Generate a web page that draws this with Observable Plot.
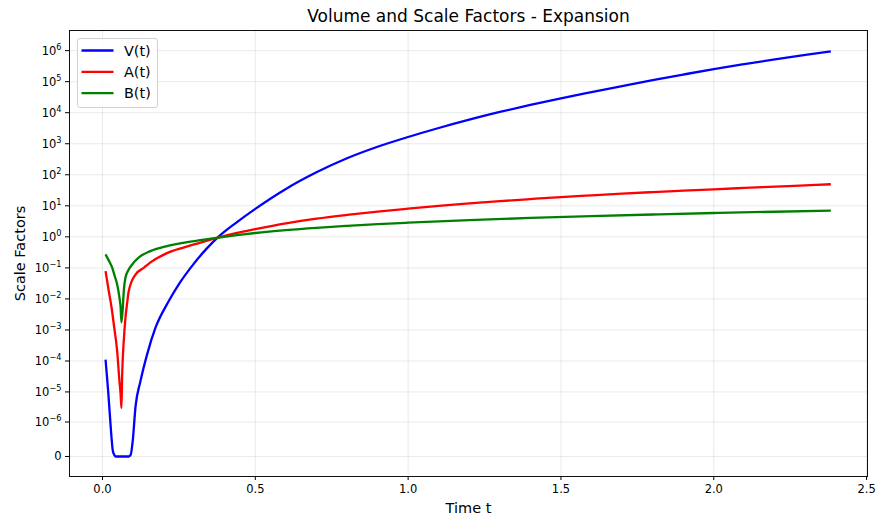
<!DOCTYPE html>
<html>
<head>
<meta charset="utf-8">
<script src="https://cdn.jsdelivr.net/npm/d3@7"></script>
<script src="https://cdn.jsdelivr.net/npm/@observablehq/plot@0.6"></script>
<style>
  html, body { margin: 0; padding: 0; background: #fff; }
  #wrap { position: relative; width: 876px; height: 518px; font-family: "DejaVu Sans", sans-serif; }
  #legend { position: absolute; left: 77px; top: 38px; width: 79px; height: 68px;
            border: 1px solid #d2d2d2; border-radius: 3px; background: rgba(255,255,255,0.85); }
</style>
</head>
<body>
<div id="wrap"></div>
<script>
// ---------- data ----------
const title = "Volume and Scale Factors - Expansion";
const xLabel = "Time t";
const yLabel = "Scale Factors";

const seriesNames  = ["V(t)", "A(t)", "B(t)"];
const seriesColors = ["#0000ff", "#ff0000", "#008000"];

const xTicks = [0, 0.5, 1, 1.5, 2, 2.5];
const xTickLabels = ["0.0", "0.5", "1.0", "1.5", "2.0", "2.5"];
const yTicks = [0, 1e-6, 1e-5, 1e-4, 1e-3, 1e-2, 1e-1, 1, 1e1, 1e2, 1e3, 1e4, 1e5, 1e6];
const yTickLabels = ["0", "10⁻⁶", "10⁻⁵", "10⁻⁴", "10⁻³", "10⁻²", "10⁻¹", "10⁰", "10¹", "10²", "10³", "10⁴", "10⁵", "10⁶"];

// V(t)
const tV = [0.010, 0.0186, 0.026, 0.0336, 0.038, 0.042, 0.086, 0.092, 0.099, 0.108, 0.124, 0.146, 0.173, 0.2164, 0.25, 0.297,
            0.34, 0.379, 0.44, 0.5, 0.6, 0.7, 0.8, 0.9, 1.0, 1.1, 1.2, 1.3, 1.4, 1.5, 1.6, 1.7, 1.8, 1.9, 2.0,
            2.1, 2.2, 2.3, 2.383];
const vV = [1.1e-4, 1.05e-5, 8.9e-7, 4.7e-8, 1.3e-8, 0, 0, 1.0e-8, 1.9e-7, 3.3e-6, 2.2e-5, 1.64e-4, 1.16e-3, 8.4e-3, 0.03, 0.13,
            0.41, 1.0, 3.0, 8.0, 35, 120, 340, 800, 1650, 3215, 5960, 1.055e4, 1.79e4, 2.92e4, 4.62e4, 7.23e4, 1.114e5, 1.694e5, 2.54e5,
            3.67e5, 5.21e5, 7.28e5, 9.5e5];

// A(t)
const tA = [0.010, 0.0206, 0.030, 0.037, 0.048, 0.0555, 0.059, 0.062, 0.0643, 0.0664, 0.0695, 0.075, 0.0806, 0.0858, 0.108, 0.135,
            0.157, 0.211, 0.265, 0.32, 0.374, 0.44, 0.5, 0.6, 0.7, 0.8, 0.9, 1.0, 1.1, 1.2, 1.3, 1.4, 1.5, 1.6, 1.7, 1.8, 1.9, 2.0,
            2.1, 2.2, 2.3, 2.383];
const vA = [0.0785, 0.0177, 0.005, 0.0015, 2.05e-4, 2.2e-5, 9e-6, 3.0e-6, 3.6e-5, 1.24e-4, 4.3e-4, 2.4e-3, 7.4e-3, 0.0177, 0.061, 0.1,
            0.15, 0.30, 0.45, 0.65, 0.93, 1.35, 1.78, 2.72, 3.85, 5.09, 6.52, 8.09, 9.9, 11.9, 14.1, 16.5, 19.2, 21.8, 24.7, 27.7, 30.8, 34.1,
            37.7, 41.5, 45.6, 49.6];

// B(t)
const tB = [0.010, 0.020, 0.032, 0.040, 0.048, 0.0555, 0.059, 0.062, 0.0664, 0.0695, 0.075, 0.0858, 0.097, 0.12, 0.1567,
            0.211, 0.265, 0.32, 0.374, 0.44, 0.5, 0.6, 0.7, 0.8, 0.9, 1.0, 1.2, 1.4, 1.6, 1.8, 2.0, 2.2, 2.383];
const vB = [0.272, 0.178, 0.1, 0.054, 0.029, 0.0108, 0.0058, 0.00177, 0.0051, 0.0177, 0.0478, 0.089, 0.129, 0.222, 0.347,
            0.504, 0.644, 0.78, 0.93, 1.13, 1.33, 1.65, 1.96, 2.26, 2.56, 2.86, 3.46, 4.06, 4.66, 5.26, 5.86, 6.45, 7.0];

// ---------- build ----------
const rows = (ts, vs) => ts.map((t, i) => ({t, v: vs[i]}));
const series = [rows(tV, vV), rows(tA, vA), rows(tB, vB)];

const gridStyle = {stroke: "#b0b0b0", strokeOpacity: 0.3, strokeWidth: 0.9};
const centered = {text: d => d, lineAnchor: "middle", textAnchor: "middle"};

const chart = Plot.plot({
  width: 876,
  height: 518,
  marginTop: 30,
  marginRight: 9,
  marginBottom: 42,
  marginLeft: 69,
  style: {fontFamily: "DejaVu Sans", fontSize: "11.5px", color: "black", background: "white", overflow: "visible"},
  x: {domain: [-0.108, 2.503]},
  y: {type: "symlog", constant: 8.4e-8, domain: [-2.87e-7, 4.45e6]},
  marks: [
    Plot.gridX(xTicks, gridStyle),
    Plot.gridY(yTicks, gridStyle),
    ...series.map((data, i) => Plot.line(data, {
      x: "t", y: "v", stroke: seriesColors[i], strokeWidth: 2.3,
      strokeLinejoin: "round", strokeLinecap: "butt", curve: "monotone-x"
    })),
    Plot.frame({stroke: "#111", strokeWidth: 1}),
    Plot.axisX(xTicks, {
      tickSize: 4, tickPadding: 4, label: null, fontSize: 11.5,
      tickFormat: d => xTickLabels[xTicks.indexOf(d)]
    }),
    Plot.axisY(yTicks, {
      tickSize: 4, tickPadding: 4, label: null, fontSize: 11.5,
      tickFormat: d => yTickLabels[yTicks.indexOf(d)]
    }),
    Plot.text([title], {...centered, frameAnchor: "top", dy: -13.5, fontSize: 17}),
    Plot.text([xLabel], {...centered, frameAnchor: "bottom", dy: 32, fontSize: 14.5}),
    Plot.text([yLabel], {...centered, frameAnchor: "left", dx: -49, rotate: -90, fontSize: 14.5})
  ]
});

// render exponents mathtext-style: "10" followed by a raised, smaller exponent
const supMap = {"⁻": "−", "⁰": "0", "¹": "1", "²": "2", "³": "3", "⁴": "4", "⁵": "5", "⁶": "6", "⁷": "7", "⁸": "8", "⁹": "9"};
chart.querySelectorAll('g[aria-label="y-axis tick label"] text').forEach(el => {
  const s = el.textContent;
  if (s.length > 2 && s.startsWith("10")) {
    const exp = Array.from(s.slice(2)).map(c => supMap[c] ?? c).join("");
    el.textContent = "10";
    const ts = document.createElementNS("http://www.w3.org/2000/svg", "tspan");
    ts.setAttribute("font-size", "8.2");
    ts.setAttribute("dy", "-5.2");
    ts.textContent = exp;
    el.appendChild(ts);
    el.setAttribute("transform", (el.getAttribute("transform") || "") + " translate(0,0.8)");
  }
});

const wrap = document.getElementById("wrap");
wrap.appendChild(chart);

// legend (real text)
const legend = document.createElement("div");
legend.id = "legend";
const ns = "http://www.w3.org/2000/svg";
const lsvg = document.createElementNS(ns, "svg");
lsvg.setAttribute("width", 79);
lsvg.setAttribute("height", 68);
seriesNames.forEach((name, i) => {
  const cy = 11.5 + i * 21.3;
  const ln = document.createElementNS(ns, "line");
  ln.setAttribute("x1", 3.5); ln.setAttribute("x2", 35.5);
  ln.setAttribute("y1", cy); ln.setAttribute("y2", cy);
  ln.setAttribute("stroke", seriesColors[i]);
  ln.setAttribute("stroke-width", 2.3);
  lsvg.appendChild(ln);
  const tx = document.createElementNS(ns, "text");
  tx.setAttribute("x", 46); tx.setAttribute("y", cy);
  tx.setAttribute("dy", "0.36em");
  tx.setAttribute("font-family", "DejaVu Sans");
  tx.setAttribute("font-size", 14.4);
  tx.setAttribute("fill", "black");
  tx.textContent = name;
  lsvg.appendChild(tx);
});
legend.appendChild(lsvg);
wrap.appendChild(legend);
</script>
</body>
</html>
